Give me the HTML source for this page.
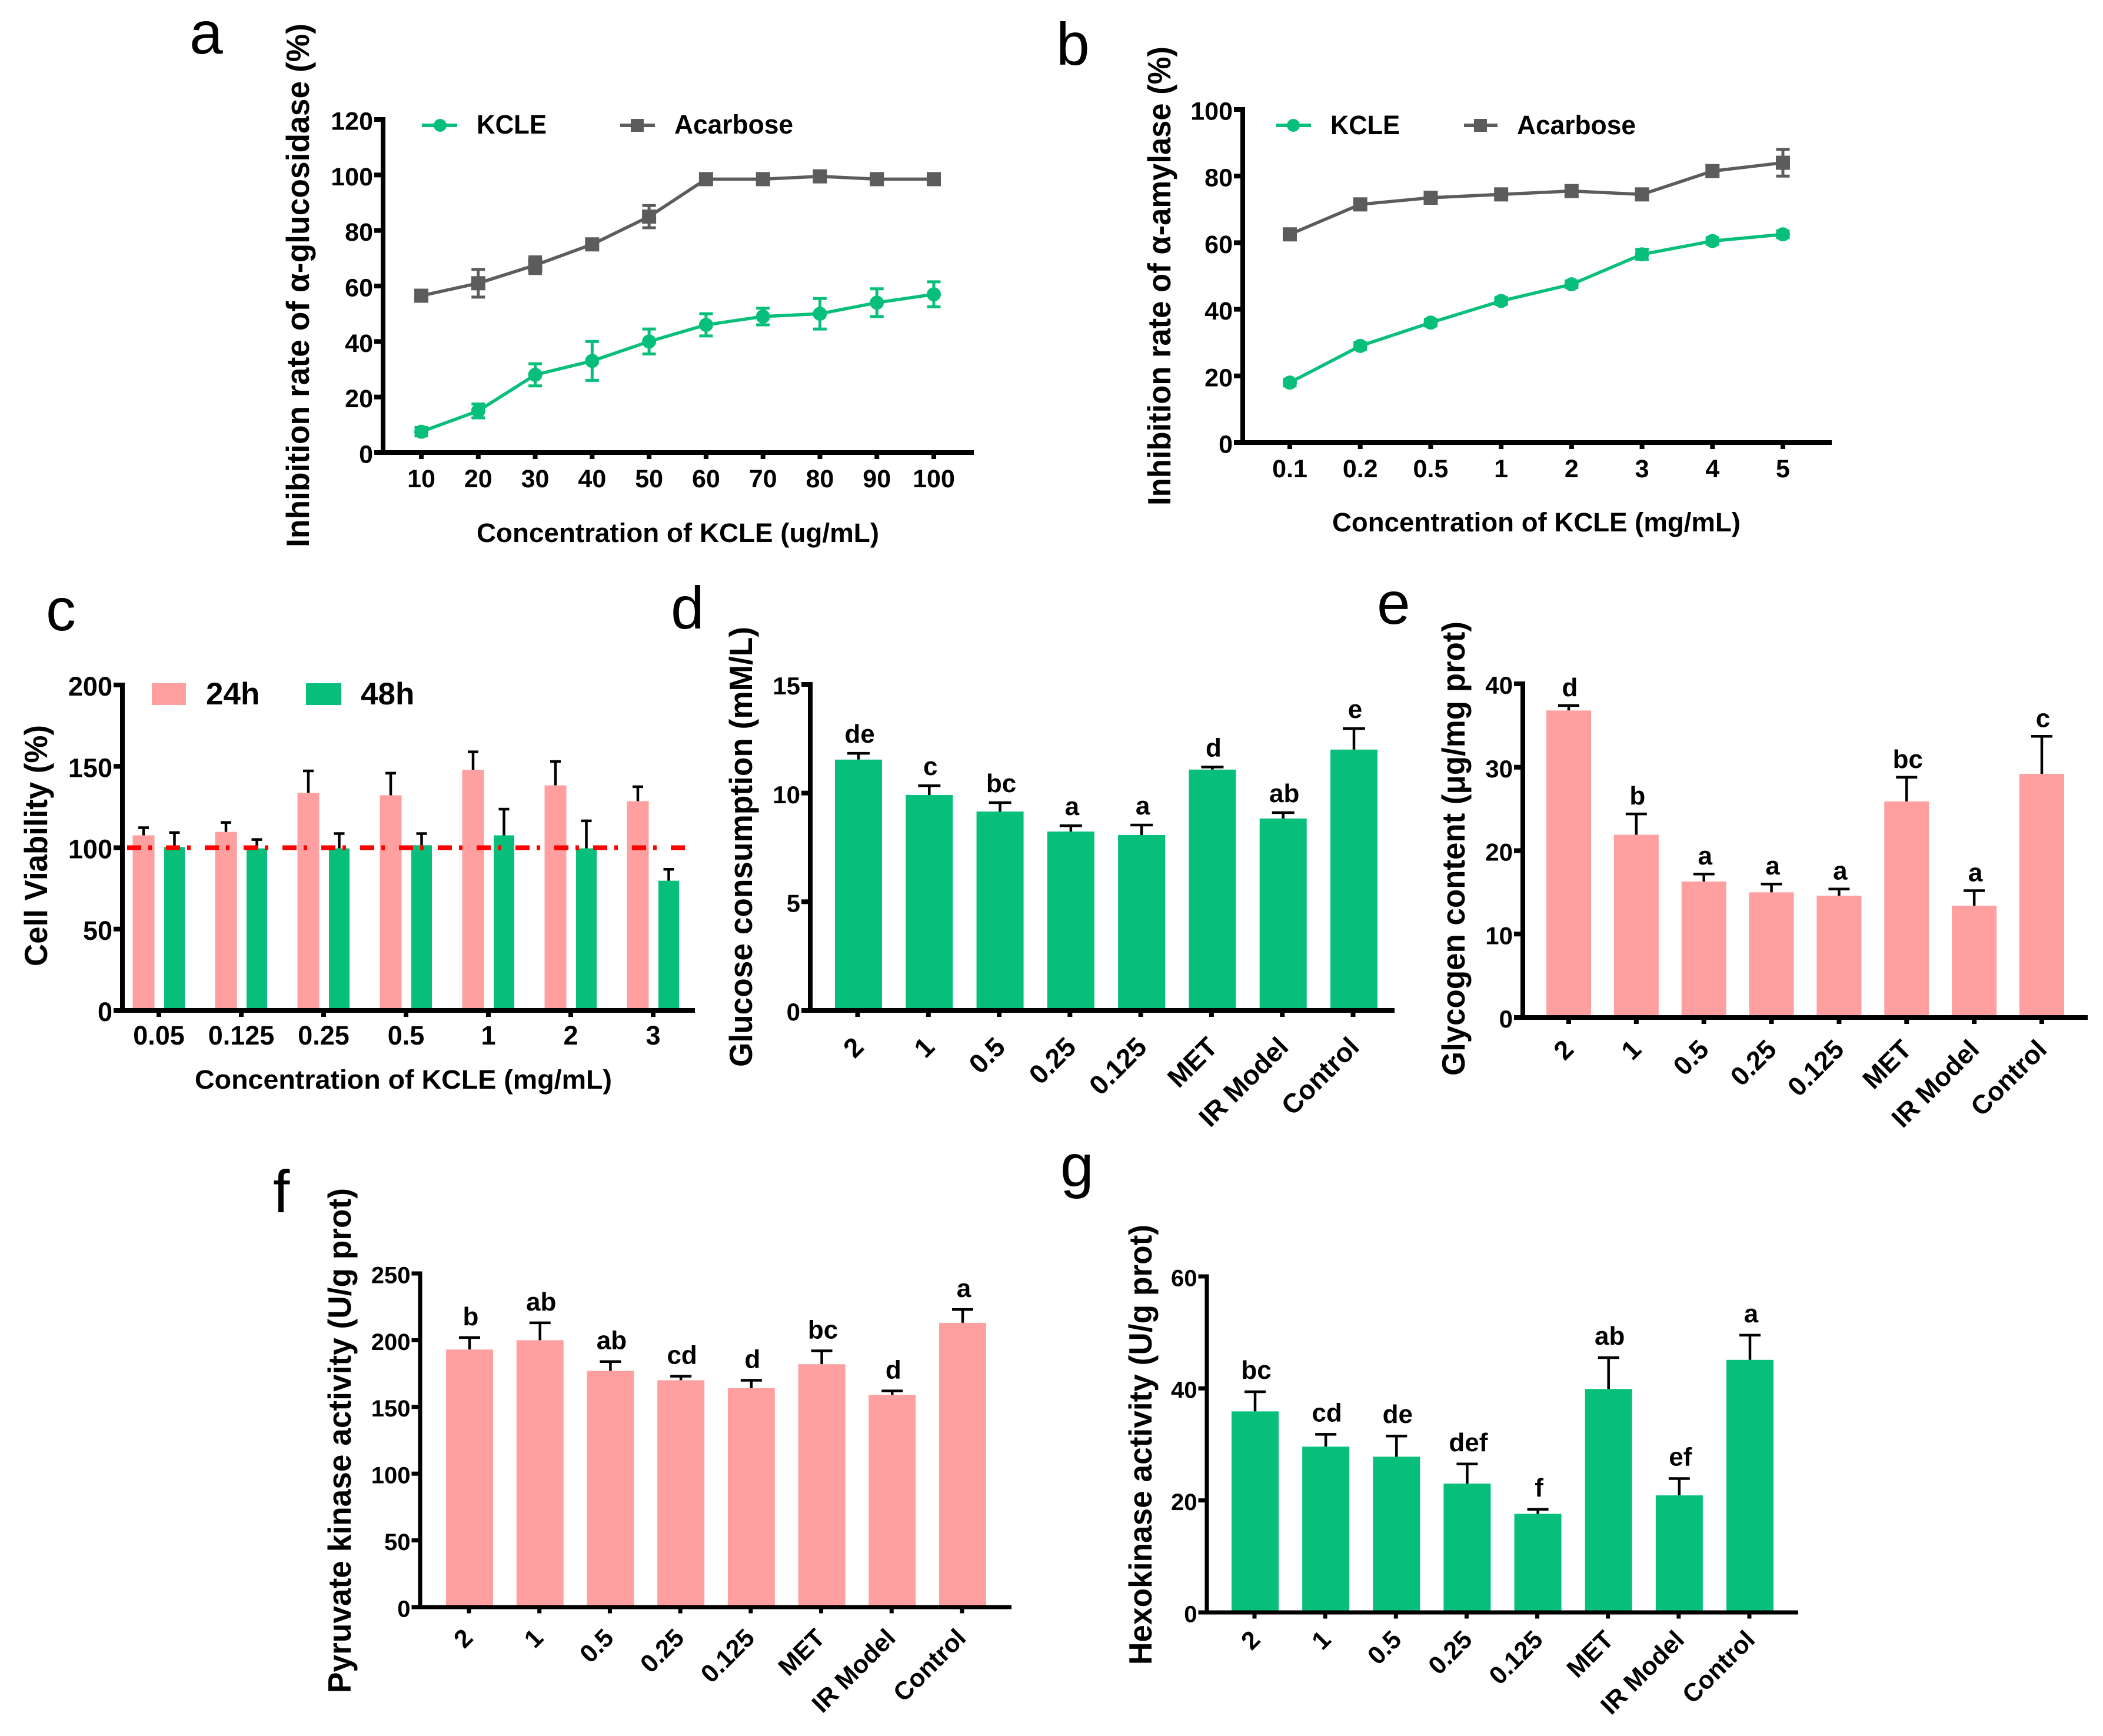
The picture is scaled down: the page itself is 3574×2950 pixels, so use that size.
<!DOCTYPE html>
<html>
<head>
<meta charset="utf-8">
<title>KCLE inhibition, viability and enzyme activity panels</title>
<style>
html,body{margin:0;padding:0;background:#fff;width:3574px;height:2950px;overflow:hidden}
svg{display:block}
text{font-family:"Liberation Sans",sans-serif;fill:#000}
.t{font-weight:bold}
.p{font-size:102px;font-weight:normal}
</style>
</head>
<body>
<svg id="fig" xmlns="http://www.w3.org/2000/svg" width="3574" height="2950" viewBox="0 0 3574 2950">
<rect width="3574" height="2950" fill="#fff"/>

<text class="p" x="322" y="91">a</text>
<text class="p" x="1795" y="110">b</text>
<text class="p" x="78" y="1071">c</text>
<text class="p" x="1140" y="1068">d</text>
<text class="p" x="2340" y="1060">e</text>
<text class="p" x="464" y="2060">f</text>
<text class="p" x="1802" y="2016">g</text>

<text class="t" font-size="55" transform="translate(525,930) rotate(-90)" textLength="890" lengthAdjust="spacingAndGlyphs">Inhibition rate of α-glucosidase (%)</text>
<text class="t" font-size="45" x="810" y="921" textLength="684" lengthAdjust="spacingAndGlyphs">Concentration of KCLE (ug/mL)</text>
<g>
  <line x1="717" y1="213" x2="777" y2="213" stroke="#07bf7a" stroke-width="6"/>
  <circle cx="748" cy="213" r="11" fill="#07bf7a"/>
  <text class="t" font-size="45" x="810" y="227" textLength="119" lengthAdjust="spacingAndGlyphs">KCLE</text>
  <line x1="1054" y1="213" x2="1113" y2="213" stroke="#5c5c5c" stroke-width="6"/>
  <rect x="1072" y="202" width="22" height="22" fill="#5c5c5c"/>
  <text class="t" font-size="45" x="1146" y="227" textLength="202" lengthAdjust="spacingAndGlyphs">Acarbose</text>
</g>

<text class="t" font-size="55" transform="translate(1989,859) rotate(-90)" textLength="780" lengthAdjust="spacingAndGlyphs">Inhibition rate of α-amylase (%)</text>
<text class="t" font-size="45" x="2264" y="903" textLength="694" lengthAdjust="spacingAndGlyphs">Concentration of KCLE (mg/mL)</text>
<g>
  <line x1="2169" y1="213" x2="2228" y2="213" stroke="#07bf7a" stroke-width="6"/>
  <circle cx="2198" cy="213" r="11" fill="#07bf7a"/>
  <text class="t" font-size="45" x="2261" y="228" textLength="118" lengthAdjust="spacingAndGlyphs">KCLE</text>
  <line x1="2488" y1="213" x2="2545" y2="213" stroke="#5c5c5c" stroke-width="6"/>
  <rect x="2505" y="202" width="22" height="22" fill="#5c5c5c"/>
  <text class="t" font-size="45" x="2578" y="228" textLength="202" lengthAdjust="spacingAndGlyphs">Acarbose</text>
</g>

<text class="t" font-size="55" transform="translate(80,1642) rotate(-90)" textLength="410" lengthAdjust="spacingAndGlyphs">Cell Viability (%)</text>
<text class="t" font-size="45" x="331" y="1850" textLength="709" lengthAdjust="spacingAndGlyphs">Concentration of KCLE (mg/mL)</text>
<g>
  <rect x="258" y="1161" width="58" height="37" fill="#ff9f9f"/>
  <text class="t" font-size="53" x="350" y="1197">24h</text>
  <rect x="520" y="1161" width="60" height="37" fill="#07bf7a"/>
  <text class="t" font-size="53" x="613" y="1197">48h</text>
</g>

<text class="t" font-size="55" transform="translate(1278,1813) rotate(-90)" textLength="748" lengthAdjust="spacingAndGlyphs">Glucose consumption (mM/L)</text>
<text class="t" font-size="55" transform="translate(2489,1828) rotate(-90)" textLength="772" lengthAdjust="spacingAndGlyphs">Glycogen content (μg/mg prot)</text>
<text class="t" font-size="55" transform="translate(596,2877) rotate(-90)" textLength="858" lengthAdjust="spacingAndGlyphs">Pyruvate kinase activity (U/g prot)</text>
<text class="t" font-size="55" transform="translate(1957,2829) rotate(-90)" textLength="748" lengthAdjust="spacingAndGlyphs">Hexokinase activity (U/g prot)</text>
</svg>

<script>
// ---- chart a data ----
const aCategories = ['10','20','30','40','50','60','70','80','90','100'];
const aYTicks = [0,20,40,60,80,100,120];
const aKcle = [7.5,15,28,33,40,46,49,50,54,57];
const aKcleErr = [1.5,2.5,4,7,4.5,4,3,5.5,5,4.5];
const aAcarbose = [56.5,61,67.5,75,85,98.5,98.5,99.5,98.5,98.5];
const aAcarboseErr = [1.5,5,3,1.5,4,1.5,1.5,1.5,1.5,1.5];
// ---- chart b data ----
const bCategories = ['0.1','0.2','0.5','1','2','3','4','5'];
const bYTicks = [0,20,40,60,80,100];
const bKcle = [18,29,36,42.5,47.5,56.5,60.5,62.5];
const bKcleErr = [1,1,1,1,1,1.5,1,1];
const bAcarbose = [62.5,71.5,73.5,74.5,75.5,74.5,81.5,84];
const bAcarboseErr = [1,1,1,1,1,1.5,1.5,4];
// ---- chart c data ----
const cCategories = ['0.05','0.125','0.25','0.5','1','2','3'];
const cYTicks = [0,50,100,150,200];
const c24h = [107.6,109.7,133.7,132.2,147.9,138.3,128.6];
const c24hTop = [112.3,115.5,147.2,145.8,158.9,153,137.5];
const c48h = [100.4,99.6,99.6,101.5,107.6,99.6,79.7];
const c48hTop = [109.3,105,108.7,108.7,123.7,116.5,86.7];
const cReference = 100;
// ---- shared group names for d-g ----
const groupNames = ['2','1','0.5','0.25','0.125','MET','IR Model','Control'];
// ---- chart d data ----
const dYTicks = [0,5,10,15];
const dValues = [11.54,9.91,9.15,8.23,8.07,11.08,8.83,12.0];
const dTops = [11.83,10.34,9.56,8.5,8.53,11.2,9.1,12.97];
const dLetters = ['de','c','bc','a','a','d','ab','e'];
// ---- chart e data ----
const eYTicks = [0,10,20,30,40];
const eValues = [36.8,21.9,16.3,15,14.6,25.9,13.4,29.2];
const eTops = [37.4,24.4,17.2,16,15.4,28.8,15.2,33.7];
const eLetters = ['d','b','a','a','a','bc','a','c'];
// ---- chart f data ----
const fYTicks = [0,50,100,150,200,250];
const fValues = [193,200,177,170,164,182,159,213];
const fTops = [202,213,184,173,170,192,162,223];
const fLetters = ['b','ab','ab','cd','d','bc','d','a'];
// ---- chart g data ----
const gYTicks = [0,20,40,60];
const gValues = [35.9,29.6,27.8,23,17.6,39.9,20.9,45.1];
const gTops = [39.4,31.8,31.5,26.5,18.4,45.5,23.9,49.5];
const gLetters = ['bc','cd','de','def','f','ab','ef','a'];

const GREEN = '#07bf7a', PINK = '#ff9f9f', GRAY = '#5c5c5c';
const NS = 'http://www.w3.org/2000/svg';
const fig = document.getElementById('fig');

function mk(tag, parent) {
  const el = document.createElementNS(NS, tag);
  parent.appendChild(el);
  return el;
}
function yScale(cfg) {
  const max = cfg.yTicks[cfg.yTicks.length - 1];
  return v => cfg.y0 + (cfg.yTop - cfg.y0) * v / max;
}
function xBand(cfg) {
  const n = cfg.categories.length;
  return i => cfg.xFirst + (cfg.xLast - cfg.xFirst) * i / (n - 1);
}
function panelGroup(id) {
  const g = mk('g', fig);
  
  
  return g;
}
function drawAxes(g, cfg) {
  const y = yScale(cfg), x = xBand(cfg);
  const w = cfg.axisW;
  const yAxis = mk('line', g);
  
  
  yAxis.setAttribute('x1', cfg.x0); yAxis.setAttribute('x2', cfg.x0);
  yAxis.setAttribute('y1', cfg.yTop - w / 2); yAxis.setAttribute('y2', cfg.y0 + w / 2);
  yAxis.setAttribute('stroke', '#000'); yAxis.setAttribute('stroke-width', w);
  const xAxis = mk('line', g);
  
  
  xAxis.setAttribute('x1', cfg.x0 - w / 2 - 11); xAxis.setAttribute('x2', cfg.xEnd);
  xAxis.setAttribute('y1', cfg.y0); xAxis.setAttribute('y2', cfg.y0);
  xAxis.setAttribute('stroke', '#000'); xAxis.setAttribute('stroke-width', w);
  cfg.yTicks.forEach(t => {
    const tick = mk('line', g);
    
    
    tick.setAttribute('x1', cfg.x0 - w / 2 - 11); tick.setAttribute('x2', cfg.x0);
    tick.setAttribute('y1', y(t)); tick.setAttribute('y2', y(t));
    tick.setAttribute('stroke', '#000'); tick.setAttribute('stroke-width', w);
    const lab = mk('text', g);
    
    
    lab.setAttribute('class', 't');
    lab.setAttribute('font-size', cfg.tickSize);
    lab.setAttribute('text-anchor', 'end');
    lab.setAttribute('x', cfg.x0 - w / 2 - 13);
    lab.setAttribute('y', y(t) + cfg.tickSize * 0.36 + 2);
    lab.textContent = t;
  });
  cfg.categories.forEach((c, i) => {
    const tx = x(i) + (cfg.tickShift || 0);
    const tick = mk('line', g);
    
    
    tick.setAttribute('x1', tx); tick.setAttribute('x2', tx);
    tick.setAttribute('y1', cfg.y0); tick.setAttribute('y2', cfg.y0 + w / 2 + 7);
    tick.setAttribute('stroke', '#000'); tick.setAttribute('stroke-width', w);
    const lab = mk('text', g);
    
    
    lab.setAttribute('class', 't');
    lab.setAttribute('font-size', cfg.xLabelSize || cfg.tickSize);
    lab.textContent = c;
    if (cfg.rotated) {
      lab.setAttribute('text-anchor', 'end');
      lab.setAttribute('transform', 'translate(' + (tx + cfg.rotDx) + ',' + (cfg.y0 + cfg.rotDy) + ') rotate(-45)');
    } else {
      lab.setAttribute('text-anchor', 'middle');
      lab.setAttribute('x', tx);
      lab.setAttribute('y', cfg.y0 + cfg.labelDy);
    }
  });
}
function drawErr(g, px, yHi, yLo, color, sw, cap) {
  const stem = mk('line', g);
  
  
  stem.setAttribute('x1', px); stem.setAttribute('x2', px);
  stem.setAttribute('y1', yHi); stem.setAttribute('y2', yLo);
  stem.setAttribute('stroke', color); stem.setAttribute('stroke-width', sw);
  const capTop = mk('line', g);
  
  
  capTop.setAttribute('x1', px - cap / 2); capTop.setAttribute('x2', px + cap / 2);
  capTop.setAttribute('y1', yHi); capTop.setAttribute('y2', yHi);
  capTop.setAttribute('stroke', color); capTop.setAttribute('stroke-width', sw);
}
function drawLineSeries(g, cfg, values, errs, color, square, name) {
  const y = yScale(cfg), x = xBand(cfg);
  const s = mk('g', g);
  
  
  values.forEach((v, i) => {
    drawErr(s, x(i), y(v + errs[i]), y(v), color, 5, 23);
    drawErr(s, x(i), y(v - errs[i]), y(v), color, 5, 23);
  });
  const path = mk('polyline', s);
  
  
  path.setAttribute('points', values.map((v, i) => x(i) + ',' + y(v)).join(' '));
  path.setAttribute('fill', 'none');
  path.setAttribute('stroke', color);
  path.setAttribute('stroke-width', 5.5);
  values.forEach((v, i) => {
    if (square) {
      const m = mk('rect', s);
      
      
      m.setAttribute('x', x(i) - 12); m.setAttribute('y', y(v) - 12);
      m.setAttribute('width', 24); m.setAttribute('height', 24);
      m.setAttribute('fill', color);
    } else {
      const m = mk('circle', s);
      
      
      m.setAttribute('cx', x(i)); m.setAttribute('cy', y(v));
      m.setAttribute('r', 12);
      m.setAttribute('fill', color);
    }
  });
}
function drawBarSeries(g, cfg, values, tops, color, shift, width, letters) {
  const y = yScale(cfg), x = xBand(cfg);
  values.forEach((v, i) => {
    const cx = x(i) + shift;
    drawErr(g, cx, y(tops[i]), y(v), '#000', 4.5, cfg.cap);
    const bar = mk('rect', g);
    
    
    bar.setAttribute('x', cx - width / 2);
    bar.setAttribute('width', width);
    bar.setAttribute('y', y(v));
    bar.setAttribute('height', y(0) - y(v));
    bar.setAttribute('fill', color);
    if (letters) {
      const lab = mk('text', g);
      
      
      lab.setAttribute('class', 't');
      lab.setAttribute('font-size', 44);
      lab.setAttribute('text-anchor', 'middle');
      lab.setAttribute('x', cx + 2);
      lab.setAttribute('y', y(tops[i]) - cfg.letterGap);
      lab.textContent = letters[i];
    }
  });
}

// chart a
const cfgA = {categories:aCategories,yTicks:aYTicks,x0:651,y0:769,yTop:203,xEnd:1655,xFirst:716,xLast:1587,axisW:8,tickSize:43,labelDy:59};
const gA = panelGroup('a');
drawLineSeries(gA, cfgA, aAcarbose, aAcarboseErr, GRAY, true, 'series-acarbose');
drawLineSeries(gA, cfgA, aKcle, aKcleErr, GREEN, false, 'series-kcle');
drawAxes(gA, cfgA);
// chart b
const cfgB = {categories:bCategories,yTicks:bYTicks,x0:2112,y0:752,yTop:186,xEnd:3113,xFirst:2192,xLast:3030,axisW:8,tickSize:43,labelDy:59};
const gB = panelGroup('b');
drawLineSeries(gB, cfgB, bAcarbose, bAcarboseErr, GRAY, true, 'series-acarbose');
drawLineSeries(gB, cfgB, bKcle, bKcleErr, GREEN, false, 'series-kcle');
drawAxes(gB, cfgB);
// chart c
const cfgC = {categories:cCategories,yTicks:cYTicks,x0:208,y0:1717,yTop:1164,xEnd:1181,xFirst:270,xLast:1110,axisW:8,tickSize:45,labelDy:58,cap:18};
const gC = panelGroup('c');
drawBarSeries(gC, cfgC, c24h, c24hTop, PINK, -26, 37);
drawBarSeries(gC, cfgC, c48h, c48hTop, GREEN, 26.5, 35);
drawAxes(gC, cfgC);
const refLine = mk('line', gC);


refLine.setAttribute('x1', 216); refLine.setAttribute('x2', 1167);
refLine.setAttribute('y1', yScale(cfgC)(cReference)); refLine.setAttribute('y2', yScale(cfgC)(cReference));
refLine.setAttribute('stroke', '#ff0000'); refLine.setAttribute('stroke-width', 8);
refLine.setAttribute('stroke-dasharray', '24 12 6 24');
// chart d
const cfgD = {categories:groupNames,yTicks:dYTicks,x0:1377,y0:1717,yTop:1163,xEnd:2370,xFirst:1459,xLast:2301,axisW:8,tickSize:42,xLabelSize:46,rotated:true,rotDx:13,rotDy:65,cap:38,letterGap:18,tickShift:-1.5};
const gD = panelGroup('d');
drawBarSeries(gD, cfgD, dValues, dTops, GREEN, 0, 80, dLetters);
drawAxes(gD, cfgD);
// chart e
const cfgE = {categories:groupNames,yTicks:eYTicks,x0:2588,y0:1729,yTop:1162,xEnd:3548,xFirst:2666,xLast:3470,axisW:8,tickSize:42,xLabelSize:45,rotated:true,rotDx:11,rotDy:57,cap:36,letterGap:16};
const gE = panelGroup('e');
drawBarSeries(gE, cfgE, eValues, eTops, PINK, 0, 76, eLetters);
drawAxes(gE, cfgE);
// chart f
const cfgF = {categories:groupNames,yTicks:fYTicks,x0:714,y0:2731,yTop:2164,xEnd:1719,xFirst:798,xLast:1636,axisW:7,tickSize:40,xLabelSize:43,rotated:true,rotDx:9,rotDy:55,cap:36,letterGap:21,tickShift:-1};
const gF = panelGroup('f');
drawBarSeries(gF, cfgF, fValues, fTops, PINK, 0, 80, fLetters);
drawAxes(gF, cfgF);
// chart g
const cfgG = {categories:groupNames,yTicks:gYTicks,x0:2051,y0:2740,yTop:2169,xEnd:3056,xFirst:2133,xLast:2974,axisW:7,tickSize:40,xLabelSize:43,rotated:true,rotDx:12,rotDy:49,cap:36,letterGap:22,tickShift:-1};
const gG = panelGroup('g');
drawBarSeries(gG, cfgG, gValues, gTops, GREEN, 0, 80, gLetters);
drawAxes(gG, cfgG);
</script>
</body>
</html>
